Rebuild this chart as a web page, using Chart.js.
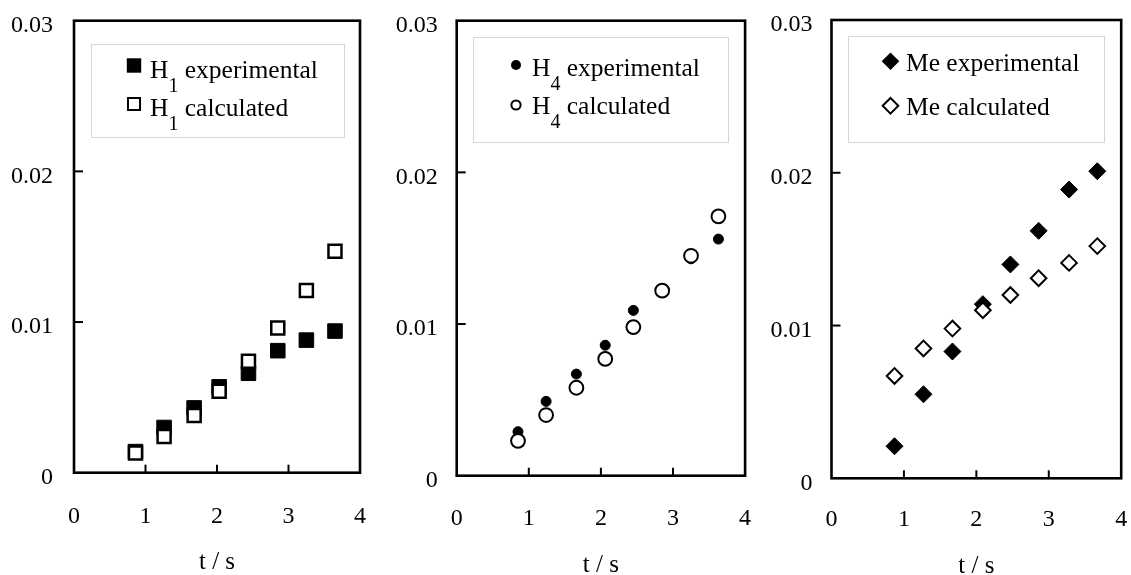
<!DOCTYPE html>
<html><head><meta charset="utf-8">
<script src="https://cdn.jsdelivr.net/npm/chart.js@4.4.1/dist/chart.umd.min.js"></script>
<style>
html,body{margin:0;padding:0;background:#fff;}
#wrap{position:relative;width:1131px;height:575px;overflow:hidden;background:#fff;}
canvas{position:absolute;top:0;}
</style></head><body>
<div id="wrap">
<canvas id="c1" width="378" height="575" style="left:0px"></canvas>
<canvas id="c2" width="376" height="575" style="left:378px"></canvas>
<canvas id="c3" width="377" height="575" style="left:754px"></canvas>
</div>
<script>
// ---- tick labels / titles ----
const xTickLabels = ['0', '1', '2', '3', '4'];
const yTickLabels = ['0', '0.01', '0.02', '0.03'];
const xAxisTitle = 't / s';

// ---- panel 1 : H1 ----
const tH1 = [0.86, 1.26, 1.68, 2.03, 2.44, 2.85, 3.25, 3.65];
const h1Experimental = [0.0014, 0.0030, 0.0043, 0.0057, 0.0066, 0.0081, 0.0088, 0.0094];
const h1Calculated   = [0.0013, 0.0024, 0.0038, 0.0054, 0.0074, 0.0096, 0.0121, 0.0147];
const h1Labels = ['H_{1} experimental', 'H_{1} calculated'];

// ---- panel 2 : H4 ----
const tH4 = [0.85, 1.24, 1.66, 2.06, 2.45, 2.85, 3.25, 3.63];
const h4Experimental = [0.0029, 0.0049, 0.0067, 0.0086, 0.0109, 0.0121, 0.0143, 0.0156];
const h4Calculated   = [0.0023, 0.0040, 0.0058, 0.0077, 0.0098, 0.0122, 0.0145, 0.0171];
const h4Labels = ['H_{4} experimental', 'H_{4} calculated'];

// ---- panel 3 : Me ----
const tMe = [0.87, 1.27, 1.67, 2.09, 2.47, 2.86, 3.28, 3.67];
const meExperimental = [0.0021, 0.0055, 0.0083, 0.0114, 0.0140, 0.0162, 0.0189, 0.0201];
const meCalculated   = [0.0067, 0.0085, 0.0098, 0.0110, 0.0120, 0.0131, 0.0141, 0.0152];
const meLabels = ['Me experimental', 'Me calculated'];

const FONT = '"Liberation Serif", "Times New Roman", serif';
Chart.defaults.font.family = FONT;
Chart.defaults.color = '#000';

function pts(xs, ys) { return xs.map((x, i) => ({x: x, y: ys[i]})); }

// frame + inward ticks
const framePlugin = {
  id: 'frame',
  beforeDatasetsDraw(chart) {
    const {ctx, chartArea: a, scales: {x, y}} = chart;
    ctx.save();
    ctx.strokeStyle = '#000';
    ctx.lineWidth = 2;
    x.ticks.forEach(t => {
      const px = x.getPixelForValue(t.value);
      if (px > a.left + 2 && px < a.right - 2) {
        ctx.beginPath(); ctx.moveTo(px, a.bottom); ctx.lineTo(px, a.bottom - 8); ctx.stroke();
      }
    });
    y.ticks.forEach(t => {
      const py = y.getPixelForValue(t.value);
      if (py > a.top + 2 && py < a.bottom - 2) {
        ctx.beginPath(); ctx.moveTo(a.left, py); ctx.lineTo(a.left + 9, py); ctx.stroke();
      }
    });
    ctx.lineWidth = 2.6;
    ctx.strokeRect(a.left, a.top, a.right - a.left, a.bottom - a.top);
    ctx.restore();
  }
};

function drawShape(ctx, shape, cx, cy, r) {
  ctx.beginPath();
  if (shape === 'rect') {
    ctx.rect(cx - r, cy - r, 2 * r, 2 * r);
  } else if (shape === 'circle') {
    ctx.arc(cx, cy, r, 0, Math.PI * 2);
  } else {
    ctx.moveTo(cx - r, cy); ctx.lineTo(cx, cy - r); ctx.lineTo(cx + r, cy); ctx.lineTo(cx, cy + r); ctx.closePath();
  }
}

const legendPlugin = {
  id: 'boxLegend',
  afterDraw(chart, args, o) {
    const ctx = chart.ctx;
    ctx.save();
    ctx.strokeStyle = '#d6d6d6';
    ctx.lineWidth = 1;
    ctx.strokeRect(Math.round(o.box[0]) + 0.5, Math.round(o.box[1]) + 0.5,
                   Math.round(o.box[2] - o.box[0]), Math.round(o.box[3] - o.box[1]));
    chart.data.datasets.forEach((ds, i) => {
      const row = o.rows[i];
      const m = o.markers[i];
      drawShape(ctx, m.shape, o.markerX, row.my, m.r);
      if (m.filled) { ctx.fillStyle = '#000'; ctx.fill(); }
      else { ctx.fillStyle = '#fff'; ctx.fill(); ctx.strokeStyle = '#000'; ctx.lineWidth = m.lw; ctx.stroke(); }
      const mt = /^(.*?)_\{(.*?)\}(.*)$/.exec(ds.label);
      let x = o.textX;
      ctx.fillStyle = '#000';
      ctx.textBaseline = 'alphabetic';
      ctx.textAlign = 'left';
      ctx.font = o.fontSize + 'px ' + FONT;
      if (mt) {
        ctx.fillText(mt[1], x, row.by);
        x += ctx.measureText(mt[1]).width;
        ctx.font = o.subSize + 'px ' + FONT;
        ctx.fillText(mt[2], x, row.by + o.subDrop);
        x += ctx.measureText(mt[2]).width;
        ctx.font = o.fontSize + 'px ' + FONT;
        ctx.fillText(mt[3], x, row.by);
      } else {
        ctx.fillText(ds.label, x, row.by);
      }
    });
    ctx.restore();
  }
};

function zeroPad(s) { s.paddingLeft = 0; s.paddingRight = 0; s.paddingTop = 0; s.paddingBottom = 0; }

function makeChart(id, xs, exp, calc, labels, st) {
  const canvas = document.getElementById(id);
  return new Chart(canvas, {
    type: 'scatter',
    data: {
      datasets: [
        { label: labels[0], data: pts(xs, exp), order: 2,
          pointStyle: st.shape, pointRadius: st.expR, pointHoverRadius: st.expR,
          backgroundColor: '#000', borderColor: '#000', borderWidth: 1 },
        { label: labels[1], data: pts(xs, calc), order: 1,
          pointStyle: st.shape, pointRadius: st.calcR, pointHoverRadius: st.calcR,
          backgroundColor: '#fff', borderColor: '#000', borderWidth: st.calcLW }
      ]
    },
    options: {
      responsive: false, animation: false, devicePixelRatio: 1,
      events: [],
      layout: { padding: { top: st.area.top, right: canvas.width - st.area.right, left: 0, bottom: 0 } },
      plugins: {
        legend: { display: false }, tooltip: { enabled: false },
        boxLegend: st.legend
      },
      scales: {
        x: {
          type: 'linear', min: 0, max: 4,
          border: { display: false },
          grid: { display: false, drawTicks: false },
          ticks: { stepSize: 1, maxRotation: 0, autoSkip: false, padding: st.xPad,
                   font: { size: 24, lineHeight: 1.2 },
                   callback: (v) => xTickLabels[Math.round(v)] },
          title: { display: true, text: xAxisTitle, font: { size: 25, lineHeight: 1 },
                   padding: { top: 0, bottom: st.titlePad } },
          afterFit: (s) => { s.height = canvas.height - st.area.bottom; zeroPad(s); }
        },
        y: {
          type: 'linear', min: 0, max: 0.03,
          border: { display: false },
          grid: { display: false, drawTicks: false },
          ticks: { stepSize: 0.01, padding: st.yPad, labelOffset: 5,
                   font: { size: 24, lineHeight: 1.2 },
                   callback: (v) => yTickLabels[Math.round(v * 100)] },
          afterFit: (s) => { s.width = st.area.left; zeroPad(s); }
        }
      }
    },
    plugins: [framePlugin, legendPlugin]
  });
}

makeChart('c1', tH1, h1Experimental, h1Calculated, h1Labels, {
  shape: 'rect', expR: 10.3, calcR: 9.2, calcLW: 2.5,
  area: { left: 74, right: 360, top: 20.7, bottom: 472.7 },
  xPad: 29.6, yPad: 21, titlePad: 0,
  legend: { box: [90.7, 44, 344, 137.3], markerX: 134, textX: 150, fontSize: 25.5, subSize: 20, subDrop: 14,
            rows: [{ my: 65.5, by: 77.7 }, { my: 104, by: 116 }],
            markers: [{ shape: 'rect', r: 7.2, filled: true }, { shape: 'rect', r: 6, filled: false, lw: 2 }] }
});

makeChart('c2', tH4, h4Experimental, h4Calculated, h4Labels, {
  shape: 'circle', expR: 5, calcR: 6.9, calcLW: 2,
  area: { left: 78.7, right: 368.7, top: 20.7, bottom: 475.7 },
  xPad: 28.2, yPad: 19, titlePad: -2.5,
  legend: { box: [95.3, 37, 350, 142], markerX: 138, textX: 154, fontSize: 25.5, subSize: 20, subDrop: 14,
            rows: [{ my: 65, by: 75.5 }, { my: 105, by: 114 }],
            markers: [{ shape: 'circle', r: 5, filled: true }, { shape: 'circle', r: 4.6, filled: false, lw: 2 }] }
});

makeChart('c3', tMe, meExperimental, meCalculated, meLabels, {
  shape: 'rectRot', expR: 8.5, calcR: 7.8, calcLW: 2,
  area: { left: 77.5, right: 368, top: 20, bottom: 478.3 },
  xPad: 27.3, yPad: 19, titlePad: -4,
  legend: { box: [94.3, 36, 350, 142.3], markerX: 136.5, textX: 152, fontSize: 25.5, subSize: 20, subDrop: 14,
            rows: [{ my: 61.3, by: 71 }, { my: 105.8, by: 115 }],
            markers: [{ shape: 'diamond', r: 8.8, filled: true }, { shape: 'diamond', r: 7.8, filled: false, lw: 2 }] }
});
</script>
</body></html>
